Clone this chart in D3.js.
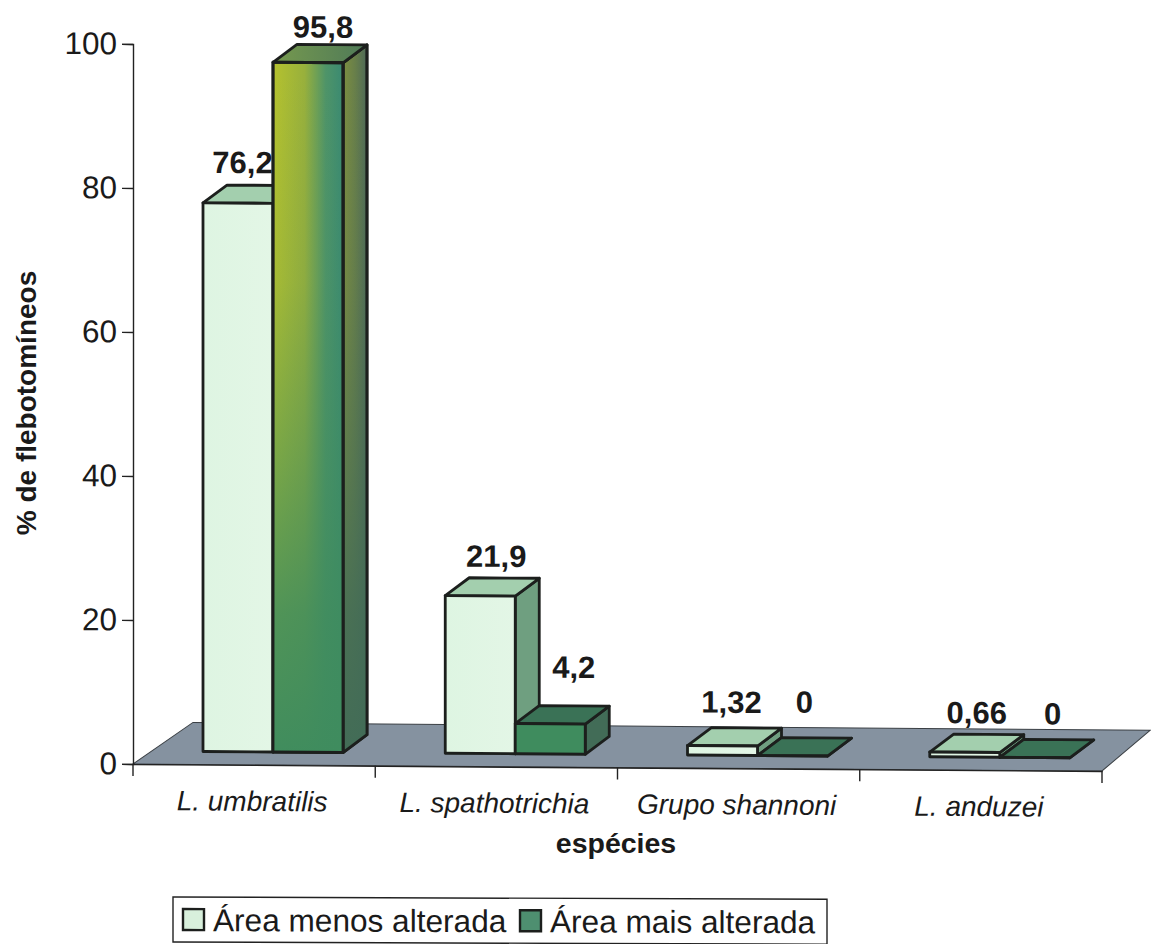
<!DOCTYPE html>
<html>
<head>
<meta charset="utf-8">
<title>Flebotomíneos por área</title>
<script src="https://cdn.jsdelivr.net/npm/d3@7"></script>
<style>
	html, body { margin: 0; padding: 0; background: #fff; }
	svg { display: block; }
	text { font-family: "Liberation Sans", Arial, sans-serif; fill: #1a1a1a; }
</style>
</head>
<body>
<div id="chart"></div>
<script>
var categories = ["L. umbratilis", "L. spathotrichia", "Grupo shannoni", "L. anduzei"];
var seriesNames = ["Área menos alterada", "Área mais alterada"];
var menosAlterada = [76.2, 21.9, 1.32, 0.66];
var maisAlterada = [95.8, 4.2, 0, 0];
var yTicks = [0, 20, 40, 60, 80, 100];

var width = 1151, height = 944;
var depthX = 24, depthY = -18;      // oblique offset of the 3d boxes
var frontGap = 13;                  // front plane sits above the axis line
var barInset = 70, barWidth = 70;

// hand placement of the value labels, relative to the box they belong to
var labelNudgeMenos = [[-7.5, -12], [4, -11], [-3, -15], [0, -11]];
var labelNudgeMais = [[3, -7], [11.5, -28], [0, -25], [6, -15]];

var svg = d3.select("#chart").append("svg")
	.attr("width", width)
	.attr("height", height);

var defs = svg.append("defs");

function gradient(id, dir, stops){
	var g = defs.append("linearGradient").attr("id", id);
	if(dir == "h"){
		g.attr("x1", 0).attr("x2", 1).attr("y1", 0).attr("y2", 0);
	}
	stops.forEach(function(s){
		g.append("stop").attr("offset", s[0]).attr("stop-color", s[1]).attr("stop-opacity", s[2] === undefined ? 1 : s[2]);
	});
	return g;
}

// the plot leans slightly: the base runs down to the right
var plot = svg.append("g").attr("transform", "translate(133,764) skewY(0.414)");

var x = d3.scaleBand().domain(categories).range([0, 969]);
var xSeries = d3.scaleBand().domain(seriesNames).range([0, barWidth * 2]);
var y = d3.scaleLinear().domain([0, 100]).range([0, -720]);

gradient("frontColour", "h", [[0, "#b5c22e"], [0.45, "#98b03c"], [0.75, "#4f9468"], [1, "#3a8a72"]]);
gradient("sideColour", "h", [[0, "#7d8e40"], [0.5, "#687f4a"], [1, "#4e6a58"]]);
gradient("topColour", "h", [[0, "#76994e"], [1, "#4f7a58"]]);

// vertical fades so the tall box settles into plain green towards its foot
function fade(id, colour){
	gradient(id, "v", [[0, colour, 0], [0.3, colour, 0.12], [0.56, colour, 0.5], [0.78, colour, 0.85], [1, colour, 1]])
		.attr("gradientUnits", "userSpaceOnUse")
		.attr("x1", 0).attr("x2", 0)
		.attr("y1", y(95.8)).attr("y2", y(0));
}
fade("frontFade", "#3f8c5e");
fade("sideFade", "#426c57");
gradient("lightFront", "h", [[0, "#def5e2"], [1, "#e3f6e6"]]);

// floor
var floor = d3.path();
floor.moveTo(0, 0);
floor.lineTo(x.range()[1], 0);
floor.lineTo(x.range()[1] + 48, -41);
floor.lineTo(60, -42);
floor.closePath();
plot.append("path")
	.attr("d", floor.toString())
	.attr("fill", "#8592a0")
	.attr("stroke", "#3a3f44")
	.attr("stroke-width", 1);

// y axis
var yAxis = plot.append("g")
	.call(d3.axisLeft(y).tickValues(yTicks).tickSize(11).tickPadding(5).tickFormat(d3.format("d")));
yAxis.selectAll("path, line").attr("stroke", "#222").attr("stroke-width", 1.4);
yAxis.selectAll("text").style("font-size", "31.5px").attr("fill", "#1a1a1a");

// x axis
var xAxis = plot.append("g")
	.call(d3.axisBottom(x).tickValues([]).tickSize(0));
xAxis.select("path").attr("stroke", "#222").attr("stroke-width", 1.4);
var tickPositions = categories.map(function(c){ return x(c); }).concat(x.range()[1]);
plot.append("g").selectAll("line")
	.data(tickPositions)
	.enter()
	.append("line")
	.attr("x1", function(d){ return d; })
	.attr("x2", function(d){ return d; })
	.attr("y1", 0)
	.attr("y2", 12)
	.attr("stroke", "#222")
	.attr("stroke-width", 1.4);
plot.append("g").selectAll("text")
	.data(categories)
	.enter()
	.append("text")
	.attr("x", function(d){ return x(d) + x.bandwidth() / 2 - 2; })
	.attr("y", 46)
	.attr("text-anchor", "middle")
	.style("font-size", "28px")
	.style("font-style", "italic")
	.text(function(d){ return d; });

function polygon(points){
	return d3.line()(points) + "Z";
}

// one oblique box: front, top and right side
function drawBox(parent, left, value, colours){
	var x0 = left, x1 = left + xSeries.bandwidth();
	var base = -frontGap, top = y(value) - frontGap;
	var g = parent.append("g")
		.attr("stroke", "#1c1f1d")
		.attr("stroke-width", 2.8)
		.attr("stroke-linejoin", "round");
	var front = polygon([[x0, base], [x1, base], [x1, top], [x0, top]]);
	var side = polygon([[x1, base], [x1 + depthX, base + depthY], [x1 + depthX, top + depthY], [x1, top]]);
	var lid = polygon([[x0, top], [x1, top], [x1 + depthX, top + depthY], [x0 + depthX, top + depthY]]);

	g.append("path").attr("d", side).attr("fill", colours.side);
	if(colours.sideFade) g.append("path").attr("d", side).attr("fill", colours.sideFade);
	g.append("path").attr("d", lid).attr("fill", colours.top);
	g.append("path").attr("d", front).attr("fill", colours.front);
	if(colours.frontFade) g.append("path").attr("d", front).attr("fill", colours.frontFade);
}

function drawLabel(parent, left, value, nudge){
	var top = y(value) - frontGap;
	parent.append("text")
		.attr("x", left + xSeries.bandwidth() / 2 + depthX / 2 + nudge[0])
		.attr("y", top + depthY + nudge[1])
		.attr("text-anchor", "middle")
		.style("font-size", "31px")
		.style("font-weight", "bold")
		.text(String(value).replace(".", ","));
}

var lightColours = { front: "url(#lightFront)", top: "#a3cfae", side: "#6f9f80" };
var darkColours = { front: "url(#frontColour)", frontFade: "url(#frontFade)", top: "url(#topColour)", side: "url(#sideColour)", sideFade: "url(#sideFade)" };
var flatColours = { front: "#3f8c5e", top: "#3a7256", side: "#426c57" };

// each group draws light box, labels, dark box: the dark box overlaps the light label
categories.forEach(function(c, i){
	var g = plot.append("g");
	var leftA = x(c) + barInset + xSeries(seriesNames[0]);
	var leftB = x(c) + barInset + xSeries(seriesNames[1]);
	drawBox(g, leftA, menosAlterada[i], lightColours);
	drawLabel(g, leftA, menosAlterada[i], labelNudgeMenos[i]);
	drawBox(g, leftB, maisAlterada[i], maisAlterada[i] > 50 ? darkColours : flatColours);
	drawLabel(g, leftB, maisAlterada[i], labelNudgeMais[i]);
});

// axis titles
svg.append("text")
	.attr("transform", "translate(36,403) rotate(-90)")
	.attr("text-anchor", "middle")
	.style("font-size", "28px")
	.style("font-weight", "bold")
	.text("% de flebotomíneos");

svg.append("text")
	.attr("x", 616)
	.attr("y", 853)
	.attr("text-anchor", "middle")
	.style("font-size", "28.5px")
	.style("font-weight", "bold")
	.text("espécies");

// legend, leaning a little like the plot
var legend = svg.append("g").attr("transform", "translate(173,897) skewY(0.2)");
legend.append("rect")
	.attr("width", 654).attr("height", 45)
	.attr("fill", "#fff")
	.attr("stroke", "#222")
	.attr("stroke-width", 1.4);

var legendX = [10, 347];
var legendFill = ["#d8f0dc", "#4e8f70"];
seriesNames.forEach(function(name, i){
	legend.append("rect")
		.attr("x", legendX[i]).attr("y", 12)
		.attr("width", 21).attr("height", 21)
		.attr("fill", legendFill[i])
		.attr("stroke", "#1c1f1d")
		.attr("stroke-width", 2.4);
	legend.append("text")
		.attr("x", legendX[i] + 30)
		.attr("y", 34)
		.style("font-size", "31.6px")
		.text(name);
});
</script>
</body>
</html>
